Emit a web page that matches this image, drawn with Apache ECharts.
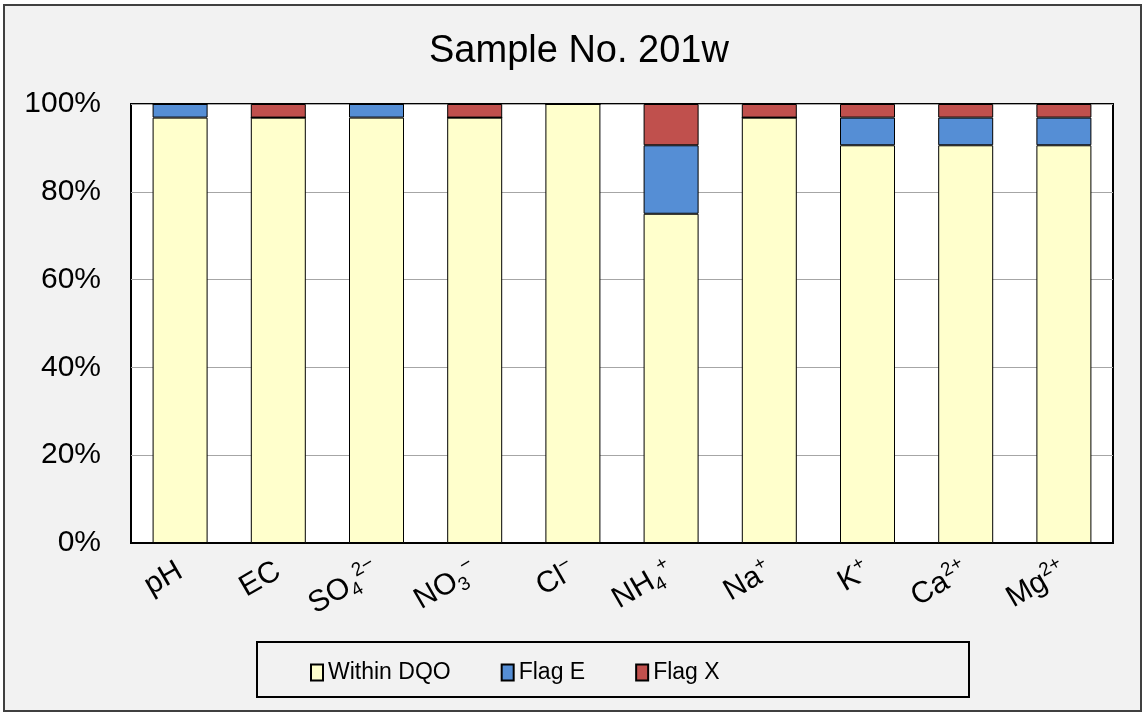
<!DOCTYPE html>
<html>
<head>
<meta charset="utf-8">
<title>Sample No. 201w</title>
<script src="https://cdn.jsdelivr.net/npm/echarts@6/dist/echarts.min.js"></script>
<style>
  html, body { margin: 0; padding: 0; background: #fff; }
  #chart { width: 1144px; height: 714px; }
</style>
</head>
<body>
<div id="chart"></div>
<script>
// categories (rich text markup for sub/superscripts)
var categories = [
  "pH", "EC", "SO{sub|4}{sup|2−}", "NO{sub|3}{sup|−}", "Cl{sup|−}",
  "NH{sub|4}{sup|+}", "Na{sup|+}", "K{sup|+}", "Ca{sup|2+}", "Mg{sup|2+}"
];
// percentage of labs per flag
var withinDQO = [96.9, 96.9, 96.9, 96.9, 100, 75.0, 96.9, 90.6, 90.6, 90.6];
var flagE     = [3.1, 0, 3.1, 0, 0, 15.6, 0, 6.3, 6.3, 6.3];
var flagX     = [0, 3.1, 0, 3.1, 0, 9.4, 3.1, 3.1, 3.1, 3.1];
var yTicks    = [0, 20, 40, 60, 80, 100];

var font = "Liberation Sans, Arial, sans-serif";

var barItem = function (color) {
  return { color: color, borderColor: "#000", borderWidth: 1 };
};

var chart = echarts.init(document.getElementById("chart"));

var option = {
  backgroundColor: "#fff",
  animation: false,
  textStyle: { fontFamily: font, color: "#000" },
  graphic: [
    {
      type: "rect",
      z: -10,
      shape: { x: 4, y: 5, width: 1137, height: 706 },
      style: { fill: "#f2f2f2", stroke: "#404040", lineWidth: 2 },
    },
    {
      type: "rect",
      z: -5,
      shape: { x: 257, y: 642, width: 712, height: 55 },
      style: { fill: "#f2f2f2", stroke: "#000", lineWidth: 2 },
    },
  ],
  title: {
    text: "Sample No. 201w",
    left: 424,
    top: 28,
    textStyle: { fontFamily: font, fontSize: 38, fontWeight: "normal", color: "#000" },
  },
  legend: {
    left: 305,
    top: 656,
    itemWidth: 12,
    itemHeight: 16,
    itemGap: 50,
    icon: "rect",
    textStyle: { fontFamily: font, fontSize: 23, color: "#000" },
    data: ["Within DQO", "Flag E", "Flag X"],
  },
  grid: {
    left: 131,
    right: 31,
    top: 104,
    bottom: 171,
    show: true,
    backgroundColor: "#fff",
    borderColor: "#000",
    borderWidth: 2,
  },
  xAxis: {
    type: "category",
    data: categories,
    axisLine: { lineStyle: { color: "#000", width: 2 } },
    axisTick: { inside: true, length: 8, lineStyle: { color: "#000" } },
    axisLabel: {
      rotate: 30,
      margin: 26,
      interval: 0,
      fontFamily: font,
      fontSize: 30,
      color: "#000",
      lineHeight: 36,
      rich: {
        sub: { fontFamily: font, fontSize: 19, verticalAlign: "bottom", lineHeight: 36 },
        sup: { fontFamily: font, fontSize: 19, verticalAlign: "top", lineHeight: 36 },
      },
    },
  },
  yAxis: {
    type: "value",
    min: yTicks[0],
    max: yTicks[yTicks.length - 1],
    interval: yTicks[1] - yTicks[0],
    axisLine: { show: false },
    axisTick: { show: false },
    splitLine: { lineStyle: { color: "#a6a6a6", width: 1 } },
    axisLabel: {
      formatter: "{value}%",
      margin: 30,
      fontFamily: font,
      fontSize: 30,
      color: "#000",
    },
  },
  series: [
    {
      name: "Within DQO",
      type: "bar",
      stack: "total",
      barWidth: 55,
      itemStyle: barItem("#ffffcc"),
      data: withinDQO,
    },
    {
      name: "Flag E",
      type: "bar",
      stack: "total",
      barWidth: 55,
      itemStyle: barItem("#558ed5"),
      data: flagE,
    },
    {
      name: "Flag X",
      type: "bar",
      stack: "total",
      barWidth: 55,
      itemStyle: barItem("#c0504d"),
      data: flagX,
    },
  ],
};

chart.setOption(option);
</script>
</body>
</html>
